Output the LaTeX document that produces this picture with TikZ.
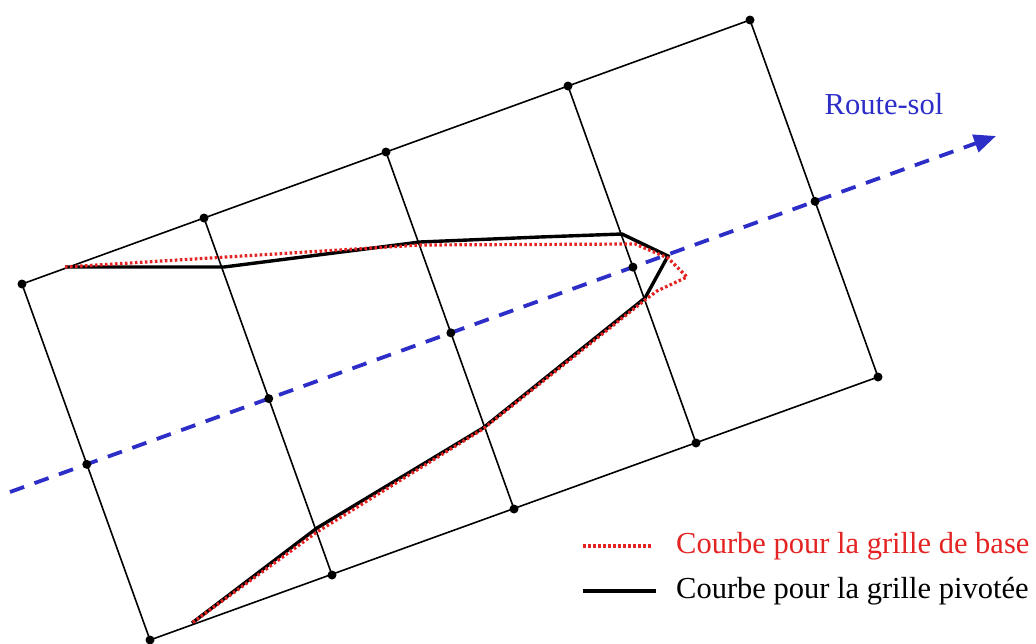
\documentclass[tikz,border=0pt]{standalone}
\usepackage{fontspec}
\setmainfont{Liberation Serif}
\usepackage{tikz}
\usetikzlibrary{arrows.meta}
\definecolor{routeblue}{RGB}{45,45,200}
\definecolor{basered}{RGB}{228,35,35}

\begin{document}
\begin{tikzpicture}[
    x=1pt, y=-1pt,
    gridline/.style={draw=black, line width=1.6pt},
    dot/.style={circle, fill=black, inner sep=0pt, minimum size=9pt},
    route/.style={draw=routeblue, line width=3.8pt, dash pattern=on 15pt off 11pt, -{Triangle[length=22pt, width=18pt]}},
    basecurve/.style={draw=basered, line width=3.2pt, dash pattern=on 2.6pt off 2.4pt},
    pivcurve/.style={draw=black, line width=3.4pt, line join=miter},
    legtext/.style={anchor=west, font=\fontsize{30.5}{34}\selectfont, inner sep=0pt},
]
    \useasboundingbox (0,0) rectangle (1036,643);

    % grid corners
    \node[dot] (t0) at (22,284) {};
    \node[dot] (t1) at (204,218) {};
    \node[dot] (t2) at (386,152) {};
    \node[dot] (t3) at (568,86) {};
    \node[dot] (t4) at (750,20) {};
    \node[dot] (b0) at (150,640) {};
    \node[dot] (b1) at (332,575) {};
    \node[dot] (b2) at (514,509) {};
    \node[dot] (b3) at (696,443) {};
    \node[dot] (b4) at (878,377) {};

    \draw[gridline] (t0.center) -- (t4.center);
    \draw[gridline] (b0.center) -- (b4.center);
    \draw[gridline] (t0.center) -- (b0.center);
    \draw[gridline] (t1.center) -- (b1.center);
    \draw[gridline] (t2.center) -- (b2.center);
    \draw[gridline] (t3.center) -- (b3.center);
    \draw[gridline] (t4.center) -- (b4.center);

    % route-sol
    \coordinate (rs) at (10,492);
    \coordinate (re) at (996,136);
    \draw[route] (rs) -- (re);
    \node[legtext, anchor=center, text=routeblue] (lroute) at (884,104) {Route-sol};

    % curves
    \draw[pivcurve] (65,267) -- (224,267) -- (420,242) -- (540,237) -- (622,234)
        -- (668,256) -- (645,298) -- (483,428) -- (317,528) -- (192,623);
    \draw[basecurve] (65,267) -- (420,245) -- (635,244) -- (668,258) -- (687,277)
        -- (657,291) -- (645,300) -- (483,429) -- (317,532) -- (192,623);

    % points on the route
    \node[dot] (m0) at (intersection of t0--b0 and rs--re) {};
    \node[dot] (m1) at (intersection of t1--b1 and rs--re) {};
    \node[dot] (m2) at (intersection of t2--b2 and rs--re) {};
    \node[dot] (m3) at (intersection of t3--b3 and rs--re) {};
    \node[dot] (m4) at (intersection of t4--b4 and rs--re) {};

    % legend
    \coordinate (lb1) at (583,546);
    \coordinate (lb2) at (652,546);
    \coordinate (lp1) at (583,591);
    \coordinate (lp2) at (656,591);
    \draw[basecurve] (lb1) -- (lb2);
    \draw[pivcurve] (lp1) -- (lp2);
    \node[legtext, text=basered] (lbase) at (676,546) {Courbe pour la grille de base};
    \node[legtext] (lpiv) at (676,591) {Courbe pour la grille pivotée};
\end{tikzpicture}
\end{document}
